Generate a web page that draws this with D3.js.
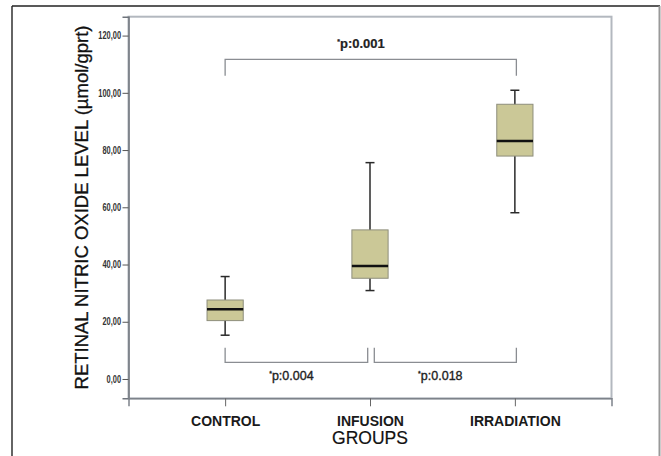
<!DOCTYPE html>
<html>
<head>
<meta charset="utf-8">
<script src="https://cdn.jsdelivr.net/npm/d3@7"></script>
<style>
  body { margin: 0; background: #fff; }
  svg { display: block; }
</style>
</head>
<body>
<div class="chart"></div>
<script>
// groups on the x axis
var groups = ["CONTROL", "INFUSION", "IRRADIATION"];

// box plot statistics (µmol/gprt)
var whiskerLow  = [15.3, 30.9, 58.1];
var q1          = [20.4, 35.2, 77.9];
var median      = [24.4, 39.5, 83.2];
var q3          = [27.6, 52.1, 96.0];
var whiskerHigh = [35.8, 75.6, 100.9];

var yTicks = [0, 20, 40, 60, 80, 100, 120];

// significance brackets
var compFrom  = ["CONTROL", "CONTROL", "INFUSION"];
var compTo    = ["IRRADIATION", "INFUSION", "IRRADIATION"];
var compText  = ["p:0.001", "p:0.004", "p:0.018"];
var compLevel = [111.7, 5.8, 5.8];
var compLeg   = [106, 10.9, 10.9];

var svg_width = 661;
var svg_height = 456;

var svg = d3.select(".chart").append("svg")
  .attr("width", svg_width)
  .attr("height", svg_height);

// outer picture border
svg.append("line").attr("x1", 12).attr("y1", 6).attr("x2", 12).attr("y2", svg_height)
  .attr("stroke", "#111").attr("stroke-width", 1.3);
svg.append("line").attr("x1", 12).attr("y1", 6).attr("x2", 660).attr("y2", 6)
  .attr("stroke", "#222").attr("stroke-width", 1.3);
svg.append("line").attr("x1", 659.5).attr("y1", 6).attr("x2", 659.5).attr("y2", svg_height)
  .attr("stroke", "#999").attr("stroke-width", 2);

// plot area (don't use "top" as a global name, it's window.top)
var pLeft = 128.5, pRight = 611.5, pTop = 16.7, pBottom = 398.3;

var x = d3.scalePoint()
  .domain(groups)
  .range([pLeft, pRight])
  .padding(0.667);

var y = d3.scaleLinear()
  .domain([-6.75, 126.6])
  .range([pBottom, pTop]);

// plot frame
svg.append("rect")
  .attr("x", pLeft).attr("y", pTop)
  .attr("width", pRight - pLeft).attr("height", pBottom - pTop)
  .attr("fill", "none")
  .attr("stroke", "#b3b8bf")
  .attr("stroke-width", 2);

// y axis
var yAxis = d3.axisLeft(y)
  .tickValues(yTicks)
  .tickSize(6)
  .tickPadding(1.5)
  .tickFormat(function(d) { return d3.format(".2f")(d).replace(".", ","); });

var gy = svg.append("g")
  .attr("transform", "translate(" + pLeft + ",0)")
  .call(yAxis);
gy.select(".domain").attr("stroke", "#6f747c").attr("stroke-width", 1.5);
gy.selectAll(".tick line").attr("stroke", "#555");
gy.selectAll(".tick text")
  .attr("fill", "#333")
  .style("font-family", "'Liberation Sans', Arial, sans-serif")
  .style("font-weight", "bold")
  .style("font-size", "10px")
  .each(function() {
    // squeeze like a narrow font
    var w = this.getComputedTextLength();
    d3.select(this).attr("textLength", w * 0.74).attr("lengthAdjust", "spacingAndGlyphs");
  });

// x axis
var xAxis = d3.axisBottom(x).tickSize(8).tickPadding(10);
var gx = svg.append("g")
  .attr("transform", "translate(0," + pBottom + ")")
  .call(xAxis);
gx.select(".domain").attr("stroke", "#7d828a").attr("stroke-width", 1.5);
gx.selectAll(".tick line").attr("stroke", "#666");
gx.selectAll(".tick text")
  .attr("fill", "#1a1a1a")
  .style("font-family", "'Liberation Sans', Arial, sans-serif")
  .style("font-weight", "bold")
  .style("font-size", "14px");

// axis titles
svg.append("text")
  .attr("transform", "translate(88,207.5) rotate(-90)")
  .attr("text-anchor", "middle")
  .attr("fill", "#111")
  .attr("stroke", "#111")
  .attr("stroke-width", 0.3)
  .style("font-family", "'Liberation Sans', Arial, sans-serif")
  .style("font-size", "18.5px")
  .text("RETINAL NITRIC OXIDE LEVEL (µmol/gprt)");

svg.append("text")
  .attr("x", x("INFUSION"))
  .attr("y", 444)
  .attr("text-anchor", "middle")
  .attr("fill", "#111")
  .attr("stroke", "#111")
  .attr("stroke-width", 0.2)
  .style("font-family", "'Liberation Sans', Arial, sans-serif")
  .style("font-size", "17.5px")
  .text("GROUPS");

// boxes
var boxW = x.step() * 0.25;
var capW = 9;

var boxes = svg.selectAll("g.box")
  .data(groups)
  .enter()
  .append("g")
  .attr("class", "box");

boxes.append("line")   // whisker
  .attr("x1", function(d) { return x(d); })
  .attr("x2", function(d) { return x(d); })
  .attr("y1", function(d, i) { return y(whiskerLow[i]); })
  .attr("y2", function(d, i) { return y(whiskerHigh[i]); })
  .attr("stroke", "#2a2a2a")
  .attr("stroke-width", 1.5);

boxes.append("line")   // lower cap
  .attr("x1", function(d) { return x(d) - capW / 2; })
  .attr("x2", function(d) { return x(d) + capW / 2; })
  .attr("y1", function(d, i) { return y(whiskerLow[i]); })
  .attr("y2", function(d, i) { return y(whiskerLow[i]); })
  .attr("stroke", "#2a2a2a")
  .attr("stroke-width", 1.5);

boxes.append("line")   // upper cap
  .attr("x1", function(d) { return x(d) - capW / 2; })
  .attr("x2", function(d) { return x(d) + capW / 2; })
  .attr("y1", function(d, i) { return y(whiskerHigh[i]); })
  .attr("y2", function(d, i) { return y(whiskerHigh[i]); })
  .attr("stroke", "#2a2a2a")
  .attr("stroke-width", 1.5);

boxes.append("rect")
  .attr("x", function(d) { return x(d) - boxW / 2; })
  .attr("y", function(d, i) { return y(q3[i]); })
  .attr("width", boxW)
  .attr("height", function(d, i) { return y(q1[i]) - y(q3[i]); })
  .attr("fill", "#cbc897")
  .attr("stroke", "#8e8e7c")
  .attr("stroke-width", 1);

boxes.append("line")   // median
  .attr("x1", function(d) { return x(d) - boxW / 2; })
  .attr("x2", function(d) { return x(d) + boxW / 2; })
  .attr("y1", function(d, i) { return y(median[i]); })
  .attr("y2", function(d, i) { return y(median[i]); })
  .attr("stroke", "#111")
  .attr("stroke-width", 2.5);

// significance brackets
var comps = compText.map(function(t, i) {
  return { from: compFrom[i], to: compTo[i], text: t, level: compLevel[i], leg: compLeg[i] };
});

// small gaps where two bottom brackets meet at INFUSION
function bx1(c) { return c.from === "INFUSION" ? x(c.from) + 4.3 : x(c.from); }
function bx2(c) { return c.to === "INFUSION" ? x(c.to) - 2.3 : x(c.to) + 1.5; }

svg.selectAll("path.bracket")
  .data(comps)
  .enter()
  .append("path")
  .attr("class", "bracket")
  .attr("d", function(c) {
    return "M" + bx1(c) + "," + y(c.leg) +
      "V" + y(c.level) + "H" + bx2(c) + "V" + y(c.leg);
  })
  .attr("fill", "none")
  .attr("stroke", "#8a8d92")
  .attr("stroke-width", 1.3);

var labels = svg.selectAll("text.ptext")
  .data(comps)
  .enter()
  .append("text")
  .attr("class", "ptext")
  .attr("x", function(c, i) { return i === 0 ? 361 : (bx1(c) + bx2(c)) / 2 - 5; })
  .attr("y", function(c, i) { return i === 0 ? 48 : 380; })
  .attr("text-anchor", "middle")
  .attr("fill", "#222")
  .attr("stroke", "#222")
  .attr("stroke-width", function(c, i) { return i === 0 ? 0.2 : 0.35; })
  .style("font-family", "'Liberation Sans', Arial, sans-serif")
  .style("font-weight", function(c, i) { return i === 0 ? "bold" : "normal"; })
  .style("font-size", function(c, i) { return i === 0 ? "13px" : "12.5px"; });

labels.append("tspan")
  .attr("dy", -4)
  .style("font-size", "7px")
  .text("*");
labels.append("tspan")
  .attr("dy", 4)
  .text(function(c) { return c.text; });
</script>
</body>
</html>
